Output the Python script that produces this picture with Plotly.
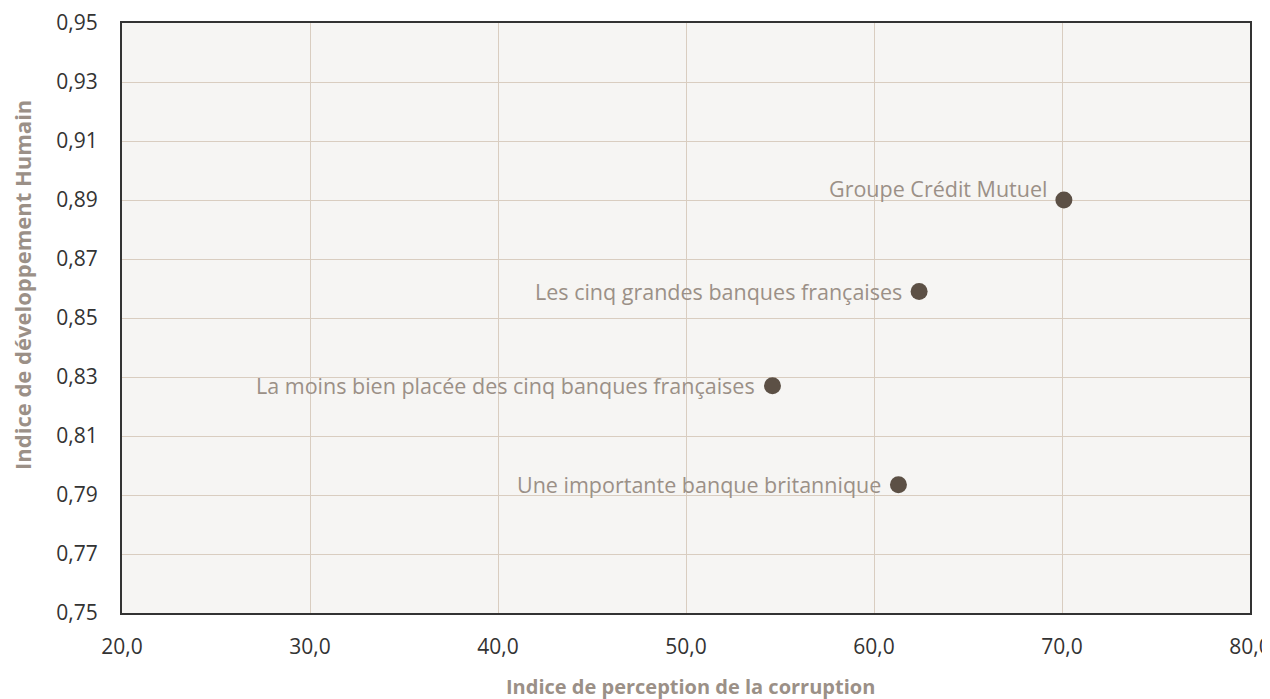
import plotly.graph_objects as go

labels = ["Groupe Crédit Mutuel", "Les cinq grandes banques françaises",
          "La moins bien placée des cinq banques françaises", "Une importante banque britannique"]
ipc = [70.1, 62.4, 54.6, 61.3]
idh = [0.890, 0.859, 0.827, 0.7935]
label_raise = [12, 0, 0, 0]
x_ticks = [20, 30, 40, 50, 60, 70, 80]
y_ticks = [0.75, 0.77, 0.79, 0.81, 0.83, 0.85, 0.87, 0.89, 0.91, 0.93, 0.95]

FONT = "Open Sans, sans-serif"
LABEL_COLOR = "#9b9087"

fig = go.Figure()
fig.add_trace(go.Scatter(
    x=ipc, y=idh, mode="markers",
    marker=dict(size=17, color="#5c5045"),
    hoverinfo="skip", showlegend=False, cliponaxis=False,
))

for xv, yv, t, r in zip(ipc, idh, labels, label_raise):
    fig.add_annotation(x=xv, y=yv, text=t, showarrow=False, xanchor="right",
                       yanchor="middle", xshift=-15, yshift=r,
                       font=dict(family=FONT, size=21.5, color=LABEL_COLOR))

fig.add_annotation(xref="paper", yref="paper", x=0.5, y=0, xshift=4, yshift=-73,
                   xanchor="center", yanchor="middle", showarrow=False,
                   text="<b>Indice de perception de la corruption</b>",
                   font=dict(family=FONT, size=20, color=LABEL_COLOR))
fig.add_annotation(xref="paper", yref="paper", x=0, y=0.5, xshift=-100, yshift=33,
                   xanchor="center", yanchor="middle", showarrow=False, textangle=-90,
                   borderpad=0,
                   text="<b>Indice de développement Humain</b>",
                   font=dict(family=FONT, size=22, color=LABEL_COLOR))

fig.update_layout(
    width=1270, height=699,
    margin=dict(l=114, r=28, t=15, b=94),
    paper_bgcolor="white", plot_bgcolor="#f6f5f3",
    separators=", ",
    font=dict(family=FONT, color="#333333", size=21),
    xaxis=dict(range=[20, 80], tickvals=x_ticks, tickformat=".1f", showgrid=True,
               gridcolor="#d9cdc0", gridwidth=1, zeroline=False, automargin=False,
               showline=True, linecolor="#333333", linewidth=2, mirror=True,
               ticks="outside", ticklen=0, ticklabelstandoff=14),
    yaxis=dict(range=[0.75, 0.95], tickvals=y_ticks, tickformat=".2f", showgrid=True,
               gridcolor="#d9cdc0", gridwidth=1, zeroline=False, automargin=False,
               showline=True, linecolor="#333333", linewidth=2, mirror=True,
               ticks="outside", ticklen=0, ticklabelstandoff=18),
)

fig.write_html("out.html")
